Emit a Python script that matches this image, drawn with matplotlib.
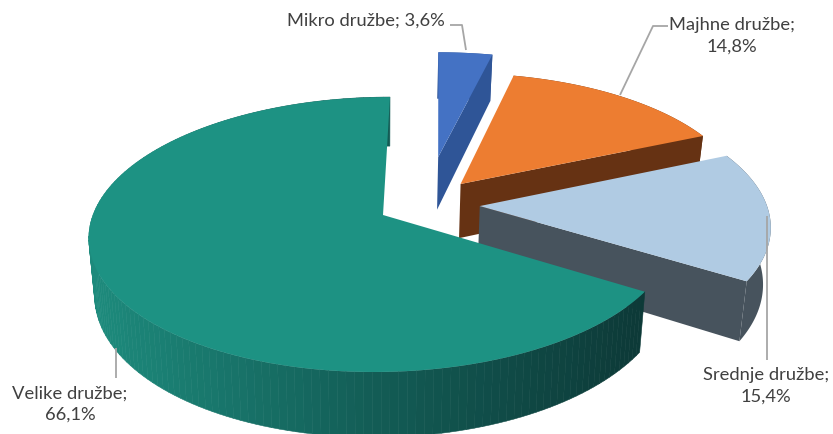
import numpy as np
import matplotlib
matplotlib.use("Agg")
import matplotlib.pyplot as plt
from matplotlib.collections import PolyCollection
from matplotlib.colors import LinearSegmentedColormap
from matplotlib.patches import Polygon

categories = ["Mikro družbe", "Majhne družbe", "Srednje družbe", "Velike družbe"]
values = [3.6, 14.8, 15.4, 66.1]

top_colors = ["#4472C4", "#ED7D31", "#B0CBE3", "#1D9283"]
side_colors = ["#2F5597", "#663213", "#47535D", "#0D3A38"]
# how far each slice is pulled out, in units of the pie radius (right, back)
explode = [(0.19, 0.458), (0.27, 0.238), (0.335, 0.067), (0.0, 0.0)]

# camera set-up, pixels
X0, Y0 = 383, 215
FX, FY = 290, 134.7
SHEAR = 8
PERSP = 0.142
HEIGHT = 56
BOTTOM_SHRINK = 0.98

teal_ramp = LinearSegmentedColormap.from_list("teal", ["#1D8A7C", "#135E57", "#0D3A38"])


def project(theta, r, shift, bottom=False):
    u = r * np.sin(theta) + shift[0]
    v = r * np.cos(theta) + shift[1]
    d = 1 + PERSP * v
    x = (FX * u + SHEAR * v) / d
    y = Y0 - FY * v / d
    if bottom:
        x = x * BOTTOM_SHRINK
        y = y + HEIGHT / d
    return X0 + x, y


fig = plt.figure(figsize=(8.33, 4.34), dpi=100)
ax = fig.add_axes([0, 0, 1, 1])
ax.set_xlim(0, 833)
ax.set_ylim(434, 0)
ax.axis("off")

edges = np.cumsum([0] + values) / sum(values) * 2 * np.pi

for i in range(len(values)):
    t1, t2 = edges[i], edges[i + 1]
    shift = explode[i]
    th = np.linspace(t1, t2, 160)
    tx, ty = project(th, 1, shift)
    bx, by = project(th, 1, shift, bottom=True)

    # outer rim
    if i == 3:
        quads = []
        shades = []
        for j in range(len(th) - 1):
            quads.append([(tx[j], ty[j]), (tx[j + 1], ty[j + 1]), (bx[j + 1], by[j + 1]), (bx[j], by[j])])
            shades.append(1 - np.clip((min(tx[j], 640) - 95) / 545, 0, 1))
        # dark end is on the right
        rim = PolyCollection(quads, facecolors=teal_ramp(1 - np.array(shades)), edgecolors="face",
                             linewidths=0.4, zorder=i * 3 + 1)
        ax.add_collection(rim)
    else:
        pts = list(zip(tx, ty)) + list(zip(bx[::-1], by[::-1]))
        ax.add_patch(Polygon(pts, closed=True, fc=side_colors[i], ec="none", zorder=i * 3 + 1))

    # cut face on the clockwise end of the slice
    if i < 3:
        ax_, ay_ = project(0, 0, shift)
        ab_x, ab_y = project(0, 0, shift, bottom=True)
        ox, oy = project(t2, 1, shift)
        ob_x, ob_y = project(t2, 1, shift, bottom=True)
        ax.add_patch(Polygon([(ax_, ay_), (ox, oy), (ob_x, ob_y), (ab_x, ab_y)], closed=True,
                             fc=side_colors[i], ec="none", zorder=i * 3 + 2))

    # top face
    ax_, ay_ = project(0, 0, shift)
    ax.add_patch(Polygon([(ax_, ay_)] + list(zip(tx, ty)), closed=True,
                         fc=top_colors[i], ec="none", zorder=i * 3 + 3))

# leader lines
line_kw = dict(color="#A6A6A6", lw=1.3, zorder=20, solid_capstyle="butt")
ax.plot([450, 462, 466], [25, 25, 50], **line_kw)
ax.plot([668, 653, 620], [26, 26, 95], **line_kw)
ax.plot([767, 767], [216, 360], **line_kw)
ax.plot([116, 116], [348, 378], **line_kw)


def fmt(v):
    return f"{v:.1f}%".replace(".", ",")


text_kw = dict(family="Lato", fontsize=13.2, color="#404040", ha="center", va="center",
               linespacing=1.4, zorder=21)
ax.text(366, 21, f"{categories[0]}; {fmt(values[0])}", **text_kw)
ax.text(732, 36, f"{categories[1]};\n{fmt(values[1])}", **text_kw)
ax.text(766, 386, f"{categories[2]};\n{fmt(values[2])}", **text_kw)
ax.text(70, 404, f"{categories[3]};\n{fmt(values[3])}", **text_kw)

fig.savefig("out.png", dpi=100)
